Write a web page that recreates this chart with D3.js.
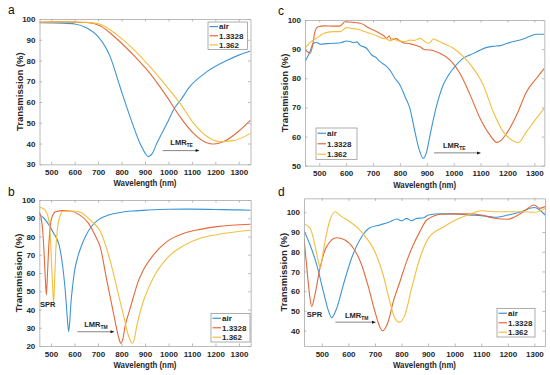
<!DOCTYPE html>
<html>
<head>
<meta charset="utf-8">
<script src="https://cdn.jsdelivr.net/npm/d3@7"></script>
<style>
  body { margin: 0; background: #fff; }
  text { font-family: "Liberation Sans", Arial, sans-serif; }
</style>
</head>
<body>
<div id="chart"></div>
<script>
// ---- data: [wavelength nm, transmission %] ----

// a) TE simulation
var teSimAir = [[450,98.2],[550,98],[600,97.6],[650,95.8],[700,91.5],[751,82],[793,67.5],[836,53],[879,40],[900,35.5],[914,33.7],[930,35],[950,40],[993,49.5],[1028,57.5],[1049,60.5],[1092,67.5],[1163,74.5],[1249,80],[1300,82.6],[1350,84.6]];
var teSimN1 = [[450,98.4],[550,98.6],[600,98.5],[650,98.3],[708,96.8],[779,90.5],[850,82.7],[921,73.8],[993,62.6],[1049,53],[1106,45],[1163,40.4],[1191,39.8],[1249,41.7],[1305,46.5],[1350,51.3]];
var teSimN2 = [[450,98.4],[550,98.7],[600,98.6],[650,98.4],[708,97.5],[779,92.5],[850,85.5],[921,77],[993,67.4],[1049,59.5],[1106,50],[1163,43.5],[1220,40.9],[1277,41.4],[1350,44.9]];

// b) TM simulation
var tmSimAir = [[450,92],[470,90],[490,86.5],[510,82],[535,75],[545,68],[553,60],[560,51],[565,43],[570,34],[575,28],[580,34],[585,44],[592,53],[600,61],[612,68],[627,74],[650,81],[672,85.5],[700,89],[729,91],[760,92.3],[800,93.3],[850,94],[913,94.5],[1000,94.9],[1100,95],[1200,94.8],[1300,94.6],[1350,94.4]];
var tmSimN1 = [[450,93.5],[458,90],[464,84],[470,72],[476,56],[480,48],[484,57],[490,74],[497,86],[505,91],[520,93.6],[550,94.2],[580,94],[620,92],[658,87.5],[690,80],[709,74.4],[737,56.2],[766,37.9],[787,25.1],[797,21.5],[806,24],[815,30.6],[833,39],[851,47],[870,55],[893,61.6],[936,69.9],[993,77.2],[1064,81.7],[1135,83.9],[1206,85.4],[1350,86.7]];
var tmSimN2 = [[450,96],[470,95.1],[485,92],[495,84],[502,66],[507,52],[511,43.5],[515,55],[520,72],[527,84],[535,90],[551,93.8],[600,94],[630,93],[658,90],[680,87.5],[709,83],[751,67],[780,52],[808,37],[830,25.5],[840,22.3],[847,21.5],[855,24],[865,31],[893,44.5],[936,57.5],[993,68],[1064,75],[1135,79],[1206,81],[1350,83.4]];

// c) TE experiment
var teExpAir = [[447,85.7],[465,89],[478,92],[490,92.3],[503,91.7],[530,91.9],[552,92],[580,92.2],[602,92.8],[615,92.6],[627,92.2],[640,92.5],[651,91.4],[676,90.3],[695,88],[710,87.2],[726,85.7],[745,84.5],[763,82.8],[780,80.2],[800,77.7],[820,73.5],[837,69.7],[855,62],[870,56],[887,52.5],[900,55],[912,60.5],[937,70.8],[961,77.7],[980,81],[999,83.4],[1036,86.9],[1060,88],[1086,89.1],[1123,90.6],[1150,91],[1172,91.2],[1200,92],[1222,92.6],[1250,93.2],[1271,93.9],[1308,95.1],[1337,95.1]];
var teExpN1 = [[447,89.7],[458,89],[466,88.6],[475,91],[484,96],[496,97.7],[520,98],[552,97.9],[577,97.9],[596,99.4],[627,99.2],[645,99],[664,98.5],[680,97.5],[701,96.6],[726,95.4],[740,94.6],[751,93.7],[760,94.6],[769,93.1],[785,93.6],[800,92.8],[812,92.2],[825,92],[840,91.8],[856,91.4],[875,90.8],[890,89.9],[912,89.7],[930,89.3],[949,88.6],[986,86.3],[1023,81.7],[1061,74.3],[1098,66.3],[1135,60.5],[1160,58],[1175,58.6],[1197,61.1],[1234,67.4],[1271,75.4],[1308,80],[1337,83.4]];
var teExpN2 = [[447,90.3],[462,92],[478,93.1],[500,94.3],[515,95.4],[552,96],[577,96],[602,97.4],[620,97.1],[639,96.9],[660,96.3],[676,95.8],[714,94.6],[740,93.6],[751,93.5],[763,92.8],[775,93.7],[790,92.9],[800,92.8],[820,92.6],[837,93.1],[855,93],[875,93.7],[890,92.8],[906,92],[915,92.5],[924,93.5],[940,92.9],[961,92],[999,90.3],[1036,87.4],[1073,83.4],[1110,77.7],[1147,68.5],[1184,61.7],[1222,58.5],[1240,57.9],[1271,61.7],[1308,66.3],[1337,69.7]];

// d) TM experiment
var tmExpAir = [[433,90.7],[456,83.4],[481,73.3],[506,59.8],[524,50.5],[537,46.6],[556,51.3],[581,63.2],[612,76.7],[650,87.6],[681,92.2],[719,93.6],[757,95.2],[782,96.6],[801,95.7],[819,96.9],[838,95.7],[857,96.9],[882,97.2],[901,98.6],[950,99.3],[1000,99.2],[1050,98.6],[1100,98.3],[1150,97.5],[1200,98.6],[1250,100.3],[1300,102.4],[1320,101.2],[1340,98.6]];
var tmExpN1 = [[433,87],[445,69.9],[455,57],[462,52.2],[474,58.1],[493,71.6],[518,82.6],[556,87.1],[587,86],[619,81.8],[650,73.3],[675,62.3],[700,49.6],[718,42],[729,39.9],[740,41.5],[750,44.6],[769,54.7],[794,64.8],[819,75],[844,83.4],[869,90.2],[895,96.1],[950,99],[1000,99.2],[1050,99.2],[1100,98.6],[1150,97],[1200,96.5],[1250,99.5],[1300,103.7],[1320,102],[1340,102.9]];
var tmExpN2 = [[433,94.2],[456,91.9],[474,83.4],[487,75],[495,72],[503,78],[512,85.1],[531,96.1],[550,100.3],[575,97.8],[606,95.2],[637,91.9],[669,86.8],[700,80],[731,68.2],[756,54.7],[775,46.3],[792,44.3],[813,48],[838,61.5],[869,76.7],[901,86.8],[960,92.7],[1000,95.8],[1050,98.6],[1100,100.8],[1150,100.3],[1200,100.3],[1250,100.3],[1300,100],[1340,102]];

var seriesNames = ["air", "1.3328", "1.362"];
var seriesColors = ["#3d95d6", "#e5693a", "#f2bf3f"];

// ---- layout ----
var svg = d3.select("#chart").append("svg")
  .attr("width", 550).attr("height", 375);

var panels = [
  { tag: "a", lx: 8, ly: 14, left: 39.5, right: 250.5, top: 19, bottom: 164.3,
    x: [450, 1350], y: [30, 100], yt: d3.range(30, 101, 10),
    data: [teSimAir, teSimN1, teSimN2],
    legend: [208, 22, 247.5, 49.5],
    lmr: { sub: "TE", x0: 975, x1: 1131, y: 36.6, tx: 1008, ty: 39.2 } },
  { tag: "b", lx: 8, ly: 196, left: 39.3, right: 250.7, top: 200, bottom: 346,
    x: [450, 1350], y: [20, 100], yt: d3.range(20, 101, 10),
    data: [tmSimAir, tmSimN1, tmSimN2],
    legend: [211, 313.5, 250, 342],
    spr: { x: 453, y: 41.5 },
    lmr: { sub: "TM", x0: 612, x1: 768, y: 27.8, tx: 641, ty: 30.3 } },
  { tag: "c", lx: 278, ly: 15, left: 305, right: 544.3, top: 20, bottom: 165.7,
    x: [447, 1337], y: [50, 100], yt: d3.range(50, 101, 10),
    data: [teExpAir, teExpN1, teExpN2],
    legend: [316, 128, 357, 159.5],
    lmr: { sub: "TE", x0: 927, x1: 1100, y: 54.4, tx: 960, ty: 56 } },
  { tag: "d", lx: 278, ly: 196, left: 304, right: 545, top: 198.3, bottom: 346,
    x: [433, 1340], y: [32.2, 107.1], yt: d3.range(40, 101, 10),
    data: [tmExpAir, tmExpN1, tmExpN2],
    legend: [497, 308.5, 535, 337],
    spr: { x: 443, y: 47 },
    lmr: { sub: "TM", x0: 551, x1: 702, y: 44.3, tx: 587, ty: 46.5 } }
];

var axisColor = "#a8a8a8", textColor = "#262626";

panels.forEach(function (p) {
  var x = d3.scaleLinear().domain(p.x).range([p.left, p.right]);
  var y = d3.scaleLinear().domain(p.y).range([p.bottom, p.top]);
  var g = svg.append("g");

  g.append("text").attr("x", p.lx).attr("y", p.ly)
    .attr("font-size", 12).attr("fill", "#111").text(p.tag);

  g.append("clipPath").attr("id", "clip-" + p.tag)
    .append("rect").attr("x", p.left).attr("y", p.top)
    .attr("width", p.right - p.left).attr("height", p.bottom - p.top);

  var line = d3.line()
    .x(function (d) { return x(d[0]); })
    .y(function (d) { return y(d[1]); })
    .curve(d3.curveMonotoneX);

  p.data.forEach(function (s, i) {
    g.append("path").datum(s)
      .attr("clip-path", "url(#clip-" + p.tag + ")")
      .attr("d", line)
      .attr("fill", "none")
      .attr("stroke", seriesColors[i])
      .attr("stroke-width", 1.1);
  });

  // box axes, ticks inward on all sides
  var xt = d3.range(500, 1301, 100);
  var styleAxis = function (sel) {
    sel.select(".domain").attr("stroke", axisColor).attr("stroke-width", 0.8);
    sel.selectAll(".tick line").attr("stroke", axisColor).attr("stroke-width", 0.8);
    sel.selectAll(".tick text").attr("fill", textColor)
      .attr("font-size", 8).attr("font-weight", "bold");
  };
  g.append("g").attr("transform", "translate(0," + p.bottom + ")")
    .call(d3.axisBottom(x).tickValues(xt).tickFormat(d3.format("d"))
      .tickSizeInner(-2.5).tickSizeOuter(0).tickPadding(5))
    .call(styleAxis);
  g.append("g").attr("transform", "translate(0," + p.top + ")")
    .call(d3.axisTop(x).tickValues(xt).tickFormat("")
      .tickSizeInner(-2.5).tickSizeOuter(0))
    .call(styleAxis);
  g.append("g").attr("transform", "translate(" + p.left + ",0)")
    .call(d3.axisLeft(y).tickValues(p.yt).tickFormat(d3.format("d"))
      .tickSizeInner(-2.5).tickSizeOuter(0).tickPadding(4))
    .call(styleAxis);
  g.append("g").attr("transform", "translate(" + p.right + ",0)")
    .call(d3.axisRight(y).tickValues(p.yt).tickFormat("")
      .tickSizeInner(-2.5).tickSizeOuter(0))
    .call(styleAxis);

  g.append("text")
    .attr("x", (p.left + p.right) / 2).attr("y", p.bottom + 22)
    .attr("text-anchor", "middle").attr("font-size", 9.5)
    .attr("textLength", 63).attr("lengthAdjust", "spacingAndGlyphs")
    .attr("font-weight", "bold").attr("fill", textColor)
    .text("Wavelength (nm)");
  g.append("text")
    .attr("transform", "translate(" + (p.left - 17) + "," + ((p.top + p.bottom) / 2) + ") rotate(-90)")
    .attr("text-anchor", "middle").attr("font-size", 9.5)
    .attr("font-weight", "bold").attr("fill", textColor)
    .text("Transmission (%)");

  // legend
  var L = p.legend;
  g.append("rect").attr("x", L[0]).attr("y", L[1])
    .attr("width", L[2] - L[0]).attr("height", L[3] - L[1])
    .attr("fill", "#fff").attr("stroke", "#8a8a8a").attr("stroke-width", 0.7);
  var step = (L[3] - L[1]) / 3;
  seriesNames.forEach(function (n, i) {
    var cy = L[1] + step * (i + 0.5);
    g.append("line").attr("x1", L[0] + 1.5).attr("x2", L[0] + 10)
      .attr("y1", cy).attr("y2", cy)
      .attr("stroke", seriesColors[i]).attr("stroke-width", 1.2);
    g.append("text").attr("x", L[0] + 11).attr("y", cy + 2.9)
      .attr("font-size", 8).attr("font-weight", "bold")
      .attr("fill", textColor).text(n);
  });

  // annotations
  var m = p.lmr;
  g.append("line").attr("x1", x(m.x0)).attr("x2", x(m.x1))
    .attr("y1", y(m.y)).attr("y2", y(m.y))
    .attr("stroke", "#333").attr("stroke-width", 0.6);
  g.append("path")
    .attr("d", "M" + x(m.x1) + "," + y(m.y) + "l-3.5,-1.5l0,3z")
    .attr("fill", "#111");
  var t = g.append("text").attr("x", x(m.tx)).attr("y", y(m.ty))
    .attr("font-size", 7.5).attr("font-weight", "bold").attr("fill", textColor);
  t.append("tspan").text("LMR");
  t.append("tspan").attr("font-size", 5).attr("dy", 2).text(m.sub);

  if (p.spr) {
    g.append("text").attr("x", x(p.spr.x)).attr("y", y(p.spr.y))
      .attr("font-size", 7.5).attr("font-weight", "bold")
      .attr("fill", textColor).text("SPR");
  }
});
</script>
</body>
</html>
